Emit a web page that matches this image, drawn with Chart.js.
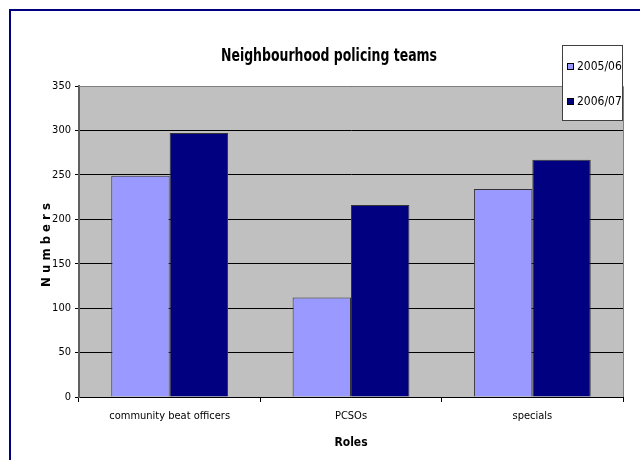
<!DOCTYPE html>
<html>
<head>
<meta charset="utf-8">
<script src="https://cdn.jsdelivr.net/npm/chart.js@4"></script>
<style>
  body { margin: 0; background: #fff; }
  canvas { display: block; }
</style>
</head>
<body>
<canvas id="chart" width="640" height="460"></canvas>
<script>
const roles = ['community beat officers', 'PCSOs', 'specials'];
const seriesNames = ['2005/06', '2006/07'];
const values0506 = [249, 112, 234];
const values0607 = [297, 216, 267];
const yTicks = [0, 50, 100, 150, 200, 250, 300, 350];

const narrow = "'Liberation Sans Narrow', 'DejaVu Sans Condensed', sans-serif";

// draw text squeezed to a given width
function squeezed(ctx, text, cx, cy, width) {
    const w = ctx.measureText(text).width;
    const k = Math.min(1, width / w);
    ctx.save();
    ctx.translate(cx, cy);
    ctx.scale(k, 1);
    ctx.fillText(text, 0, 0);
    ctx.restore();
}

const decor = {
    id: 'decor',
    beforeDraw(chart) {
        const ctx = chart.ctx;
        const a = chart.chartArea;
        ctx.save();
        // frame
        ctx.strokeStyle = '#000080';
        ctx.lineWidth = 2;
        ctx.strokeRect(10, 10, 660, 480);
        // plot background
        ctx.fillStyle = '#C0C0C0';
        ctx.fillRect(a.left, a.top, a.right - a.left, a.bottom - a.top);
        ctx.restore();
    },
    afterDraw(chart) {
        const ctx = chart.ctx;
        const a = chart.chartArea;
        ctx.save();
        // plot border on the right/top
        ctx.strokeStyle = '#808080';
        ctx.lineWidth = 1;
        ctx.beginPath();
        ctx.moveTo(a.left, a.top + 0.5);
        ctx.lineTo(a.right + 0.5, a.top + 0.5);
        ctx.lineTo(a.right + 0.5, a.bottom);
        ctx.stroke();

        ctx.fillStyle = '#000';
        ctx.textAlign = 'center';
        ctx.textBaseline = 'alphabetic';
        // title
        ctx.font = 'bold 18px ' + narrow;
        squeezed(ctx, 'Neighbourhood policing teams', 329, 61, 216);
        ctx.textBaseline = 'middle';
        // x title
        ctx.font = 'bold 12px ' + narrow;
        ctx.fillText('Roles', (a.left + a.right) / 2, 443);
        // y title
        ctx.save();
        ctx.translate(47, 245);
        ctx.rotate(-Math.PI / 2);
        ctx.font = 'bold 13px ' + narrow;
        ctx.fillText('N u m b e r s', 0, 0);
        ctx.restore();

        // legend box
        const lx = 562, ly = 45, lw = 60, lh = 75;
        ctx.fillStyle = '#fff';
        ctx.fillRect(lx, ly, lw, lh);
        ctx.strokeStyle = '#404040';
        ctx.strokeRect(lx + 0.5, ly + 0.5, lw, lh);
        ctx.font = '12px ' + narrow;
        ctx.textAlign = 'left';
        chart.data.datasets.forEach((ds, i) => {
            const y = ly + 22 + i * 35;
            ctx.fillStyle = ds.backgroundColor;
            ctx.fillRect(lx + 5, y - 4, 7, 7);
            ctx.strokeStyle = '#000';
            ctx.strokeRect(lx + 5.5, y - 3.5, 6, 6);
            ctx.fillStyle = '#000';
            ctx.fillText(ds.label, lx + 15, y);
        });
        ctx.restore();
    }
};

new Chart(document.getElementById('chart'), {
    type: 'bar',
    data: {
        labels: roles,
        datasets: [
            { label: seriesNames[0], data: values0506, backgroundColor: '#9999FF', borderColor: '#333333', borderWidth: 1 },
            { label: seriesNames[1], data: values0607, backgroundColor: '#000080', borderColor: '#333333', borderWidth: 1 }
        ]
    },
    options: {
        responsive: false,
        animation: false,
        devicePixelRatio: 1,
        layout: { padding: { left: 0, top: 86, right: 17, bottom: 0 } },
        datasets: { bar: { categoryPercentage: 0.644, barPercentage: 1 } },
        plugins: {
            legend: { display: false },
            title: { display: false },
            tooltip: { enabled: false }
        },
        scales: {
            x: {
                offset: true,
                grid: { offset: true, drawOnChartArea: false, drawTicks: true, tickLength: 5, color: '#000' },
                border: { color: '#000' },
                ticks: { color: '#000', font: { family: narrow, size: 11 }, padding: 8, maxRotation: 0 },
                afterFit: s => { s.height = 63; }
            },
            y: {
                min: 0,
                max: 350,
                afterBuildTicks: s => { s.ticks = yTicks.map(v => ({ value: v })); },
                grid: { color: '#000', lineWidth: 1, tickLength: 4 },
                border: { color: '#606060', width: 2 },
                ticks: { color: '#000', font: { family: narrow, size: 11 }, padding: 4 },
                afterFit: s => { s.width = 79; }
            }
        }
    },
    plugins: [decor]
});
</script>
</body>
</html>
